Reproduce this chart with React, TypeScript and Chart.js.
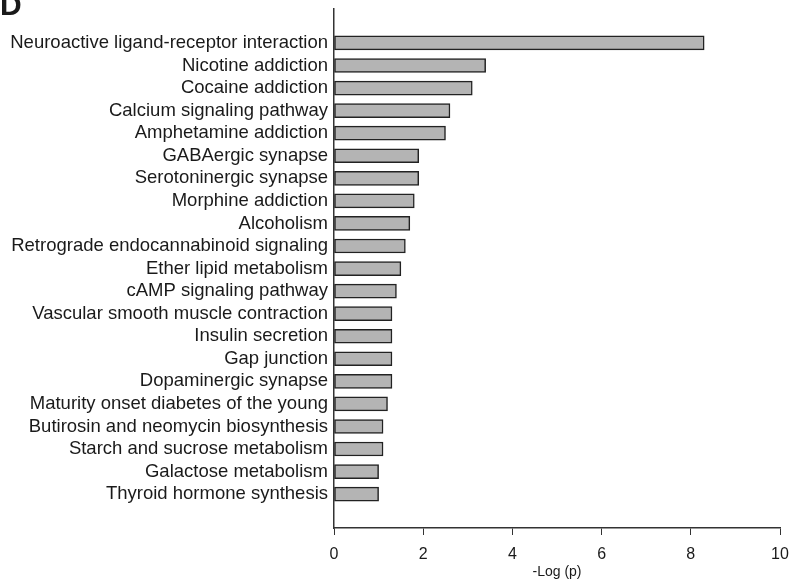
import React, { useEffect, useRef } from "react";
import { Chart, registerables } from "chart.js";

Chart.register(...registerables);

const categories: string[] = [
  "Neuroactive ligand-receptor interaction",
  "Nicotine addiction",
  "Cocaine addiction",
  "Calcium signaling pathway",
  "Amphetamine addiction",
  "GABAergic synapse",
  "Serotoninergic synapse",
  "Morphine addiction",
  "Alcoholism",
  "Retrograde endocannabinoid signaling",
  "Ether lipid metabolism",
  "cAMP signaling pathway",
  "Vascular smooth muscle contraction",
  "Insulin secretion",
  "Gap junction",
  "Dopaminergic synapse",
  "Maturity onset diabetes of the young",
  "Butirosin and neomycin biosynthesis",
  "Starch and sucrose metabolism",
  "Galactose metabolism",
  "Thyroid hormone synthesis",
];

const values: number[] = [
  8.3, 3.4, 3.1, 2.6, 2.5, 1.9, 1.9, 1.8, 1.7, 1.6, 1.5, 1.4, 1.3, 1.3, 1.3,
  1.3, 1.2, 1.1, 1.1, 1.0, 1.0,
];

const xTicks: number[] = [0, 2, 4, 6, 8, 10];
const axisTitle = "-Log (p)";
const panelLetter = "D";

const FONT = "'Liberation Sans', Arial, sans-serif";

export default function App() {
  const ref = useRef<HTMLCanvasElement | null>(null);

  useEffect(() => {
    document.body.style.margin = "0";
    const canvas = ref.current;
    if (!canvas) return;

    const labels = ["", ...categories, ""];
    const data = [null, ...values, null];

    const letterPlugin = {
      id: "panelLetter",
      afterDraw(chart: any) {
        const ctx = chart.ctx;
        ctx.save();
        ctx.font = `bold 30px ${FONT}`;
        ctx.fillStyle = "#1a1a1a";
        ctx.textBaseline = "alphabetic";
        ctx.textAlign = "left";
        ctx.fillText(panelLetter, 0, 15);
        ctx.restore();
      },
    };

    const chart = new Chart(canvas, {
      type: "bar",
      data: {
        labels,
        datasets: [
          {
            data,
            backgroundColor: "#b4b4b4",
            borderColor: "#222222",
            borderWidth: 1.5,
            borderSkipped: false,
            barThickness: 14,
          },
        ],
      },
      options: {
        indexAxis: "y",
        responsive: false,
        animation: false,
        layout: { padding: { top: -8, right: 10, left: 0, bottom: 0 } },
        plugins: {
          legend: { display: false },
          tooltip: { enabled: false },
        },
        scales: {
          x: {
            type: "linear",
            min: 0,
            max: 10,
            afterBuildTicks(scale: any) {
              scale.ticks = xTicks.map((v) => ({ value: v }));
            },
            afterFit(scale: any) {
              scale.height = 57;
              scale.paddingRight = 0;
              scale.paddingLeft = 0;
            },
            grid: {
              display: true,
              drawOnChartArea: false,
              drawTicks: true,
              tickLength: 7,
              color: "#333333",
              lineWidth: 1,
            },
            border: { display: true, color: "#333333", width: 1.5 },
            ticks: {
              color: "#1a1a1a",
              font: { family: FONT, size: 16 },
              padding: 10,
            },
            title: {
              display: true,
              text: axisTitle,
              color: "#1a1a1a",
              font: { family: FONT, size: 14 },
              padding: { top: 0, bottom: 4 },
            },
          },
          y: {
            type: "category",
            offset: true,
            afterFit(scale: any) {
              scale.width = 334;
            },
            grid: { display: false },
            border: { display: true, color: "#333333", width: 1.5 },
            ticks: {
              color: "#1a1a1a",
              font: { family: FONT, size: 18.5 },
              padding: -2,
              autoSkip: false,
            },
          },
        },
      },
      plugins: [letterPlugin],
    } as any);

    return () => chart.destroy();
  }, []);

  return <canvas ref={ref} width={790} height={585} style={{ display: "block" }} />;
}
